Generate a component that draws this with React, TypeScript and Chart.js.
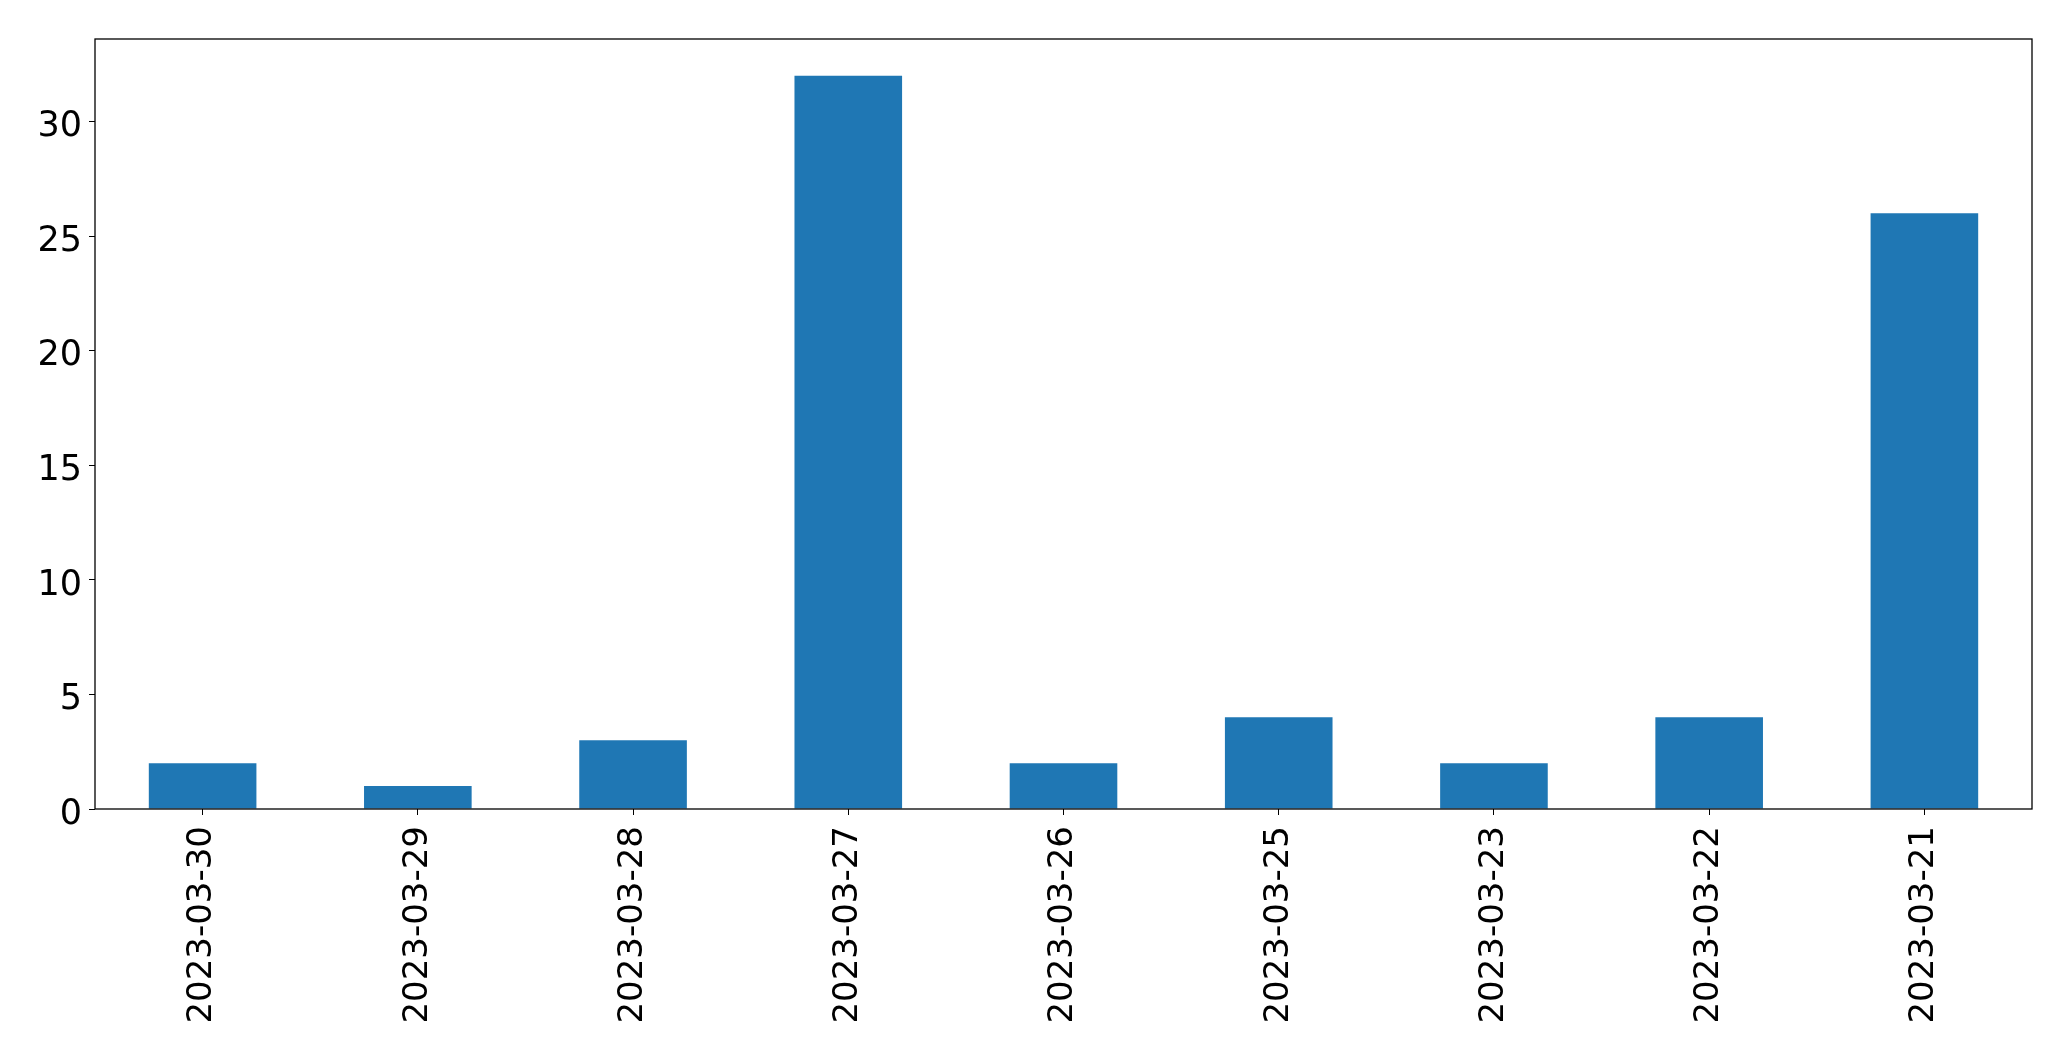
import React, { useEffect, useRef } from "react";
import { Chart, registerables } from "chart.js";

Chart.register(...registerables);

const categories = ["2023-03-30", "2023-03-29", "2023-03-28", "2023-03-27", "2023-03-26", "2023-03-25", "2023-03-23", "2023-03-22", "2023-03-21"];
const values = [2, 1, 3, 32, 2, 4, 2, 4, 26];
const yTicks = [0, 5, 10, 15, 20, 25, 30];

const W = 2071;
const H = 1061;
const LEFT = 95;
const TOP = 39;
const RIGHT = 2032;
const BOTTOM = 809;
const FONT = "DejaVu Sans";
const YFONT = 35;

const frame = {
  id: "frame",
  afterDraw(chart: any) {
    const { ctx, chartArea } = chart;
    ctx.save();
    ctx.strokeStyle = "#000";
    ctx.lineWidth = 1.3;
    ctx.strokeRect(chartArea.left, chartArea.top, chartArea.right - chartArea.left, chartArea.bottom - chartArea.top);
    // y tick labels, vertically centred on the digit ink like matplotlib
    const ys = chart.scales.y;
    ctx.fillStyle = "#000";
    ctx.font = `${YFONT}px "${FONT}"`;
    ctx.textAlign = "right";
    ctx.textBaseline = "alphabetic";
    for (const v of yTicks) {
      const py = ys.getPixelForValue(v);
      ctx.fillText(String(v), chartArea.left - 13, py + YFONT * 0.729 / 2 + 2);
    }
    ctx.restore();
  },
};

export default function App() {
  const ref = useRef<HTMLCanvasElement | null>(null);
  useEffect(() => {
    document.body.style.margin = "0";
    const chart = new Chart(ref.current!, {
      type: "bar",
      data: {
        labels: categories,
        datasets: [
          {
            data: values,
            backgroundColor: "#1f77b4",
            borderWidth: 0,
            categoryPercentage: 1,
            barPercentage: 0.5,
          },
        ],
      },
      options: {
        animation: false,
        responsive: false,
        maintainAspectRatio: false,
        layout: { padding: { left: 0, top: TOP, right: W - RIGHT, bottom: 0 } },
        plugins: { legend: { display: false }, tooltip: { enabled: false } },
        scales: {
          x: {
            grid: { display: true, drawOnChartArea: false, drawTicks: true, tickLength: 6, color: "#000", offset: false },
            border: { display: false },
            ticks: {
              color: "#000",
              font: { family: FONT, size: 34 },
              minRotation: 90,
              maxRotation: 90,
              autoSkip: false,
              padding: 11,
            },
            afterFit(scale: any) {
              scale.height = H - BOTTOM;
            },
          },
          y: {
            min: 0,
            max: 33.6,
            grid: { display: true, drawOnChartArea: false, drawTicks: true, tickLength: 6, color: "#000" },
            border: { display: false },
            afterBuildTicks(scale: any) {
              scale.ticks = yTicks.map((v) => ({ value: v }));
            },
            ticks: {
              display: false,
            },
            afterFit(scale: any) {
              scale.width = LEFT;
            },
          },
        },
      },
      plugins: [frame],
    });
    return () => chart.destroy();
  }, []);
  return (
    <div style={{ position: "absolute", left: 0, top: 0, width: W, height: H, background: "#fff" }}>
      <canvas ref={ref} width={W} height={H} style={{ width: W, height: H, display: "block" }} />
    </div>
  );
}
